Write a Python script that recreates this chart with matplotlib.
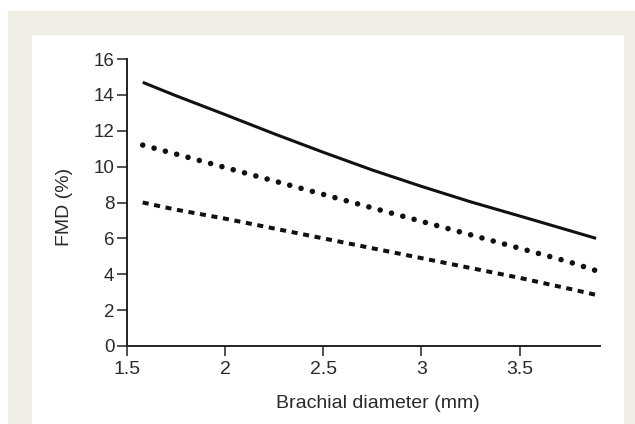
import numpy as np
import matplotlib
matplotlib.use('Agg')
import matplotlib.pyplot as plt
from matplotlib.patches import Rectangle

plt.rcParams['font.family'] = ['Liberation Sans', 'DejaVu Sans']

# Data
diameter = [1.58, 1.75, 2.0, 2.25, 2.5, 2.75, 3.0, 3.25, 3.5, 3.75, 3.89]
fmd_solid = [14.7, 13.95, 12.9, 11.83, 10.8, 9.81, 8.9, 8.04, 7.25, 6.45, 6.0]
fmd_dotted = [11.2, 10.7, 9.95, 9.2, 8.45, 7.7, 6.95, 6.2, 5.45, 4.7, 4.2]
fmd_dashed = [8.0, 7.6, 7.1, 6.55, 6.0, 5.45, 4.9, 4.35, 3.8, 3.2, 2.85]

xticks = [1.5, 2, 2.5, 3, 3.5]
xtick_labels = ['1.5', '2', '2.5', '3', '3.5']
yticks = [0, 2, 4, 6, 8, 10, 12, 14, 16]

W, H = 635, 424
fig = plt.figure(figsize=(W / 100, H / 100), dpi=100)
fig.patch.set_facecolor('white')

# beige frame and white panel
fig.patches.append(Rectangle((8 / W, 0), 1 - 8 / W, 1 - 11 / H, transform=fig.transFigure,
                             facecolor='#efede4', edgecolor='none', zorder=-2))
fig.patches.append(Rectangle((32 / W, 0), (624 - 32) / W, 1 - 35 / H, transform=fig.transFigure,
                             facecolor='white', edgecolor='none', zorder=-1))

ax = fig.add_axes([127 / W, 1 - 346 / H, (600 - 127) / W, (346 - 59) / H])
ax.patch.set_alpha(0)

ink = '#111111'
ax.plot(diameter, fmd_solid, color=ink, lw=2.2, solid_capstyle='butt')
ax.plot(diameter, fmd_dotted, color=ink, lw=4.0, dashes=(0.01, 2.1), dash_capstyle='round')
ax.plot(diameter, fmd_dashed, color=ink, lw=2.9, dashes=(1.5, 1.4), dash_capstyle='butt')

ax.set_xlim(1.5, 3.91)
ax.set_ylim(0, 16)
ax.set_xticks(xticks)
ax.set_xticklabels(xtick_labels)
ax.set_yticks(yticks)

for s in ['top', 'right']:
    ax.spines[s].set_visible(False)
for s in ['left', 'bottom']:
    ax.spines[s].set_linewidth(1.4)
    ax.spines[s].set_color('#222222')

ax.tick_params(axis='both', direction='out', length=7, width=1.1, color='#222222',
               labelcolor='#2a2a2a')
ax.tick_params(axis='y', labelsize=13.5, pad=2)
ax.tick_params(axis='x', labelsize=14, pad=4)

ax.set_xlabel('Brachial diameter (mm)', fontsize=14, color='#2a2a2a')
ax.xaxis.set_label_coords(0.531, -0.172)
ax.set_ylabel('FMD (%)', fontsize=14, color='#2a2a2a')
ax.yaxis.set_label_coords(-0.114, 0.484)

fig.savefig('out.png', dpi=100)
